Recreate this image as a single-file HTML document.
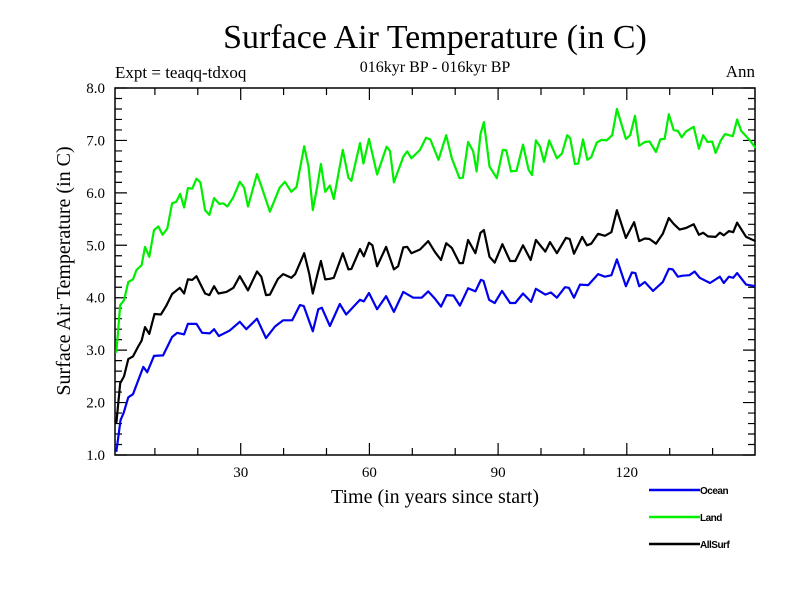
<!DOCTYPE html>
<html><head><meta charset="utf-8"><style>
body{margin:0;background:#fff;width:800px;height:600px;overflow:hidden}
svg text{font-family:"Liberation Serif",serif}
</style></head><body>
<svg id="chart" width="800" height="600">
<text x="435" y="48" font-size="34" text-anchor="middle">Surface Air Temperature (in C)</text>
<text x="115" y="78" font-size="17">Expt = teaqq-tdxoq</text>
<text x="435" y="72" font-size="16" text-anchor="middle">016kyr BP - 016kyr BP</text>
<text x="755" y="77" font-size="17" text-anchor="end">Ann</text>
<text x="435" y="503" font-size="20" text-anchor="middle">Time (in years since start)</text>
<text transform="translate(70,271) rotate(-90)" font-size="20" text-anchor="middle">Surface Air Temperature (in C)</text>
<g id="axes"></g><g id="series"></g><g id="legend"></g>
</svg>
<script>
const xTickLabels=[30,60,90,120];
const yTickLabels=["1.0","2.0","3.0","4.0","5.0","6.0","7.0","8.0"];
const oceanYears=[1,2,2.7,3.8,4.9,7.3,8.2,9.8,11.9,14,15.2,16.8,17.7,19.7,21,22.8,23.8,24.9,27.4,29.8,31.3,33.8,35.9,38,39.9,42,43.8,44.7,46.8,48.1,48.9,50.8,53.1,54.6,57.8,58.7,59.9,61.8,63.9,65.7,67.9,70.2,72.2,73.7,75.3,76.7,78,79.6,81.1,83,84.7,86,86.6,87.9,89.2,90.9,92.8,94,95.8,97.7,98.8,101,102.3,103.7,105.6,106.5,107.7,109.1,111,113.3,114.9,116.4,117.7,119.8,121.2,122,122.9,124.2,126.1,128.4,129.8,130.7,131.9,133,134.6,135.8,137,139.4,141.7,142.6,143.8,144.8,145.7,147.8,150];
const oceanVals=[1.06,1.67,1.8,2.1,2.16,2.68,2.58,2.89,2.9,3.25,3.33,3.3,3.5,3.5,3.33,3.32,3.4,3.27,3.37,3.54,3.4,3.6,3.23,3.45,3.57,3.57,3.86,3.84,3.36,3.78,3.81,3.46,3.88,3.68,3.96,3.93,4.09,3.78,4.03,3.73,4.11,4.0,4.0,4.12,3.98,3.83,4.05,4.04,3.85,4.18,4.12,4.34,4.32,3.96,3.9,4.13,3.9,3.9,4.08,3.92,4.17,4.06,4.1,4.0,4.2,4.19,4.0,4.25,4.24,4.45,4.4,4.43,4.73,4.22,4.48,4.47,4.22,4.3,4.13,4.3,4.55,4.54,4.4,4.42,4.43,4.5,4.38,4.28,4.4,4.28,4.4,4.38,4.47,4.25,4.22];
const landYears=[1,1.9,2.8,3.8,4.9,5.7,6.9,7.7,8.7,9.8,10.8,11.8,12.9,14,15,15.9,16.8,17.7,18.7,19.7,20.6,21.7,22.7,23.8,25,25.9,26.9,28.3,29.8,30.8,31.7,33.8,34.8,36.8,39.1,40.3,41.8,43,44.8,45.8,46.8,47.9,48.7,49.7,50.8,51.7,53.8,55.1,55.8,57.8,58.6,59.9,61.8,64,64.8,65.7,67.9,68.8,69.8,71.8,73.2,74.2,76.1,77.9,79.2,81,81.8,83,84.2,85,85.9,86.7,88,89.7,91.1,91.9,93,94.3,95.8,97.1,97.9,98.8,99.8,100.7,101.9,103.7,104.9,106.1,106.8,107.9,108.7,109.8,110.8,111.7,113,114.1,115.3,116.6,117.7,119.8,120.8,121.9,122.9,124.2,125.3,126.8,127.8,128.8,129.8,130.9,131.9,132.8,133.8,135.6,136.8,137.8,138.8,139.9,140.7,141.9,142.9,144.7,145.7,146.7,148.7,150];
const landVals=[2.95,3.86,3.95,4.3,4.35,4.53,4.62,4.97,4.78,5.29,5.36,5.2,5.32,5.8,5.83,5.98,5.72,6.09,6.08,6.27,6.2,5.67,5.58,5.9,5.79,5.8,5.74,5.92,6.21,6.1,5.74,6.36,6.13,5.64,6.1,6.21,6.02,6.11,6.89,6.5,5.67,6.15,6.55,6.02,6.14,5.88,6.82,6.29,6.23,6.95,6.56,7.03,6.35,6.88,6.8,6.2,6.69,6.79,6.66,6.82,7.05,7.02,6.63,7.1,6.66,6.28,6.29,6.97,6.79,6.41,7.12,7.35,6.5,6.28,6.82,6.81,6.41,6.42,6.92,6.44,6.34,7.0,6.88,6.59,7.0,6.66,6.75,7.1,7.04,6.55,6.56,7.02,6.63,6.68,6.96,7.01,7.0,7.1,7.6,7.03,7.1,7.47,6.9,6.97,6.98,6.78,7.02,7.03,7.5,7.2,7.18,7.06,7.17,7.26,6.84,7.1,6.97,6.98,6.76,7.0,7.12,7.08,7.4,7.18,7.0,6.86];
const allYears=[1,1.9,2.8,3.8,4.9,6.1,6.9,7.7,8.7,9.9,11.4,12.6,14,15.8,16.8,17.7,18.7,19.7,21.7,22.7,23.8,24.8,26.7,28.3,29.8,31.7,33.8,34.8,35.9,36.8,38.7,39.9,41.8,42.7,44.8,46,46.8,47.9,48.7,49.7,50.8,51.7,53.8,55.1,55.8,57.8,58.7,59.9,60.7,61.8,63.9,65.7,66.7,67.9,68.8,69.8,71.8,73.7,75.3,76.7,77.9,79.2,81,81.8,83,84.7,85.9,86.7,88,89.2,91,92.8,94,95.8,97.6,98.8,101,102.1,103.7,105.8,106.7,107.7,109.6,110.7,111.7,113.3,114.9,116.4,117.7,119.8,121.7,122.9,124.2,125.3,126.8,128.4,129.8,130.9,132.3,133.8,135.6,136.8,137.8,138.9,140.7,141.7,142.6,143.8,144.8,145.7,147.8,150];
const allVals=[1.6,2.37,2.5,2.83,2.88,3.07,3.18,3.44,3.31,3.69,3.68,3.84,4.07,4.19,4.08,4.35,4.34,4.41,4.08,4.05,4.22,4.08,4.11,4.19,4.41,4.14,4.5,4.4,4.05,4.06,4.36,4.45,4.38,4.45,4.85,4.45,4.08,4.45,4.7,4.35,4.36,4.38,4.85,4.54,4.55,4.93,4.79,5.05,5.0,4.6,4.97,4.54,4.6,4.96,4.97,4.85,4.92,5.08,4.87,4.72,5.04,4.95,4.66,4.66,5.1,4.85,5.24,5.29,4.78,4.67,5.02,4.7,4.7,5.0,4.72,5.1,4.88,5.06,4.85,5.14,5.12,4.84,5.16,5.0,5.03,5.22,5.18,5.25,5.67,5.14,5.44,5.08,5.13,5.12,5.03,5.22,5.52,5.41,5.3,5.33,5.4,5.2,5.24,5.17,5.16,5.24,5.19,5.27,5.25,5.43,5.16,5.08];

const NS="http://www.w3.org/2000/svg";
const L=115,R=755,T=88,B=455;
function xs(yr){return 112+yr*4.29;}
function ys(v){return B-(v-1)*(B-T)/7;}
function mk(tag,attrs,parent){const e=document.createElementNS(NS,tag);for(const k in attrs)e.setAttribute(k,attrs[k]);parent.appendChild(e);return e;}
const axes=document.getElementById('axes');
const frame=mk('rect',{x:L,y:T,width:R-L,height:B-T,fill:'none',stroke:'#000','stroke-width':1.5},axes);


let d='';
for(let yr=10;yr<150;yr+=10){const x=xs(yr);const len=(yr%30===0)?12:7;d+=`M${x},${B}v${-len}M${x},${T}v${len}`;}
for(let i=0;i<=35;i++){const v=1+i*0.2;const y=ys(v);const len=(i%5===0)?12:7;d+=`M${L},${y}h${len}M${R},${y}h${-len}`;}
const ticks=mk('path',{d:d,stroke:'#000','stroke-width':1.2,fill:'none'},axes);


xTickLabels.forEach(t=>{const e=mk('text',{x:xs(t),y:B+22,'font-size':15,'text-anchor':'middle'},axes);e.textContent=t;

});
yTickLabels.forEach(t=>{const e=mk('text',{x:L-10,y:ys(parseFloat(t))+5,'font-size':15,'text-anchor':'end'},axes);e.textContent=t;

});
const ser=document.getElementById('series');
function line(years,vals,color,name){const pts=years.map((yr,i)=>xs(yr).toFixed(1)+','+ys(vals[i]).toFixed(1)).join(' ');
const p=mk('polyline',{points:pts,fill:'none',stroke:color,'stroke-width':2.2,'stroke-linejoin':'round'},ser);

}
line(landYears,landVals,'#00ee00','land-line');
line(allYears,allVals,'#000000','allsurf-line');
line(oceanYears,oceanVals,'#0000ee','ocean-line');
const leg=document.getElementById('legend');
[['Ocean','#0000ee',490],['Land','#00ee00',517],['AllSurf','#000',544]].forEach(([n,c,y])=>{
const g=mk('g',{},leg);


mk('line',{x1:649,x2:700,y1:y,y2:y,stroke:c,'stroke-width':2.5},g);
const t=mk('text',{x:700,y:y+4,'font-size':10,'font-weight':'bold','style':'font-family:"Liberation Sans",sans-serif;letter-spacing:-0.5px'},g);t.textContent=n;});
</script>
</body></html>
